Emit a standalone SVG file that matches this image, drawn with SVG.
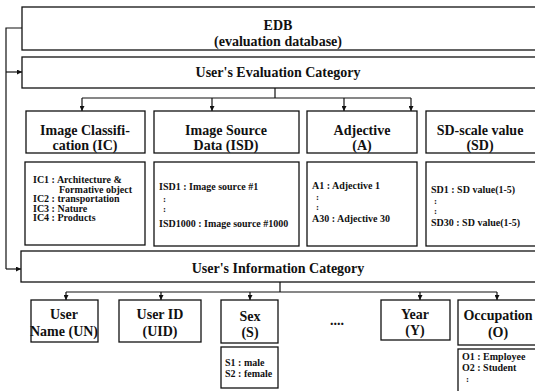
<svg xmlns="http://www.w3.org/2000/svg" width="535" height="391" viewBox="0 0 535 391">
<style>
.b{fill:#fff;stroke:#111;stroke-width:1.3}
.h{font-family:'Liberation Serif','Times New Roman','DejaVu Serif',serif;font-weight:bold;font-size:14px;fill:#111;text-anchor:middle}
.c{font-family:'Liberation Serif','Times New Roman','DejaVu Serif',serif;font-weight:bold;font-size:10px;fill:#111}
.d{font-family:'Liberation Serif','Times New Roman','DejaVu Serif',serif;font-weight:bold;font-size:9px;fill:#111}
.l{fill:none;stroke:#111;stroke-width:1.2}
</style>
<defs>
<marker id="a" viewBox="0 0 6 6" refX="6" refY="3" markerWidth="5" markerHeight="5" orient="auto" markerUnits="userSpaceOnUse">
<path d="M0,0L6,3L0,6z" fill="#111"/>
</marker>
</defs>
<rect width="535" height="391" fill="#fff"/>
<g id="connectors">
<path class="l" d="M22,28H6V269"/>
<path class="l" d="M6,72H22" marker-end="url(#a)"/>
<path class="l" d="M6,269H21" marker-end="url(#a)"/>
<path class="l" d="M275,88V98M82,98H411"/>
<path class="l" d="M82,98V111" marker-end="url(#a)"/>
<path class="l" d="M212,98V111" marker-end="url(#a)"/>
<path class="l" d="M344,98V111" marker-end="url(#a)"/>
<path class="l" d="M411,98V111" marker-end="url(#a)"/>
<path class="l" d="M280,282V292M66,292H497"/>
<path class="l" d="M66,292V300" marker-end="url(#a)"/>
<path class="l" d="M161,292V300" marker-end="url(#a)"/>
<path class="l" d="M250,292V300" marker-end="url(#a)"/>
<path class="l" d="M420,292V300" marker-end="url(#a)"/>
<path class="l" d="M497,292V300" marker-end="url(#a)"/>
</g>
<g id="edb">
<rect class="b" x="22" y="7" width="520" height="43"/>
<text class="h" x="278" y="30">EDB</text>
<text class="h" x="278" y="46">(evaluation database)</text>
</g>
<g id="eval">
<rect class="b" x="22" y="57" width="520" height="31"/>
<text class="h" x="278" y="77">User's Evaluation Category</text>
</g>
<g id="ic">
<rect class="b" x="26" y="111" width="119" height="42"/>
<text class="h" x="85" y="135">Image Classifi-</text>
<text class="h" x="85" y="150">cation (IC)</text>
</g>
<g id="ic-items">
<rect class="b" x="25" y="162" width="120" height="83"/>
<text class="c" x="33" y="183">IC1 : Architecture &amp;</text>
<text class="c" x="59" y="192.5">Formative object</text>
<text class="c" x="33" y="202">IC2 : transportation</text>
<text class="c" x="33" y="211.5">IC3 : Nature</text>
<text class="c" x="33" y="221">IC4 : Products</text>
</g>
<g id="isd">
<rect class="b" x="154" y="111" width="145" height="42"/>
<text class="h" x="226" y="135">Image Source</text>
<text class="h" x="226" y="150">Data (ISD)</text>
</g>
<g id="isd-items">
<rect class="b" x="154" y="162" width="145" height="84"/>
<text class="c" x="159" y="190">ISD1 : Image source #1</text>
<text class="d" x="163" y="202">:</text>
<text class="d" x="163" y="212">:</text>
<text class="c" x="159" y="227">ISD1000 : Image source #1000</text>
</g>
<g id="adj">
<rect class="b" x="307" y="111" width="110" height="42"/>
<text class="h" x="362" y="135">Adjective</text>
<text class="h" x="362" y="150">(A)</text>
</g>
<g id="adj-items">
<rect class="b" x="307" y="162" width="110" height="84"/>
<text class="c" x="312" y="189">A1 : Adjective 1</text>
<text class="d" x="316" y="200">:</text>
<text class="d" x="316" y="210">:</text>
<text class="c" x="312" y="222">A30 : Adjective 30</text>
</g>
<g id="sd">
<rect class="b" x="426" y="111" width="120" height="42"/>
<text class="h" x="480" y="135">SD-scale value</text>
<text class="h" x="480" y="150">(SD)</text>
</g>
<g id="sd-items">
<rect class="b" x="426" y="162" width="120" height="84"/>
<text class="c" x="431" y="193">SD1 : SD  value(1-5)</text>
<text class="d" x="434" y="204">:</text>
<text class="d" x="434" y="214">:</text>
<text class="c" x="431" y="226">SD30 : SD value(1-5)</text>
</g>
<g id="info">
<rect class="b" x="21" y="251" width="520" height="31"/>
<text class="h" x="278" y="273">User's Information Category</text>
</g>
<g id="un">
<rect class="b" x="31" y="300" width="67" height="42"/>
<text class="h" x="64" y="319">User</text>
<text class="h" x="64" y="336">Name (UN)</text>
</g>
<g id="uid">
<rect class="b" x="119" y="300" width="82" height="42"/>
<text class="h" x="160" y="319">User ID</text>
<text class="h" x="160" y="336">(UID)</text>
</g>
<g id="sex">
<rect class="b" x="221" y="300" width="57" height="43"/>
<text class="h" x="250" y="321">Sex</text>
<text class="h" x="250" y="337">(S)</text>
</g>
<g id="sex-items">
<rect class="b" x="221" y="347" width="57" height="41"/>
<text class="c" x="225" y="366">S1 : male</text>
<text class="c" x="225" y="377">S2 : female</text>
</g>
<text class="h" x="337" y="325">....</text>
<g id="year">
<rect class="b" x="381" y="300" width="69" height="40"/>
<text class="h" x="415" y="319">Year</text>
<text class="h" x="415" y="335">(Y)</text>
</g>
<g id="occ">
<rect class="b" x="458" y="300" width="90" height="45"/>
<text class="h" x="498" y="320">Occupation</text>
<text class="h" x="498" y="337">(O)</text>
</g>
<g id="occ-items">
<rect class="b" x="458" y="349" width="90" height="45"/>
<text class="c" x="462" y="360">O1 : Employee</text>
<text class="c" x="462" y="371">O2 : Student</text>
<text class="d" x="466" y="382">:</text>
</g>
</svg>
